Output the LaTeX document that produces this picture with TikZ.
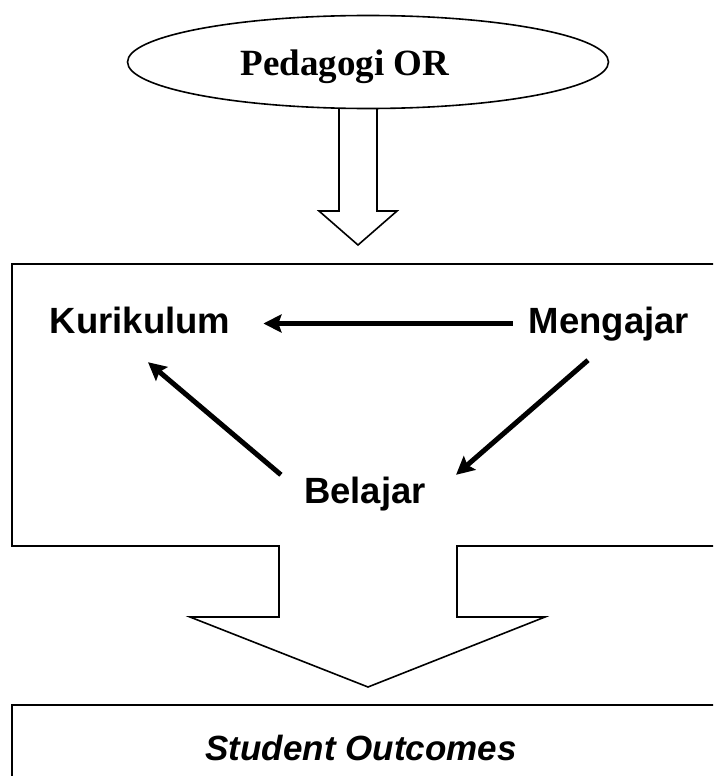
\documentclass[tikz,border=0pt]{standalone}
\usepackage{fontspec}
\newfontfamily\arialfont{Liberation Sans}
\newfontfamily\timesfont{Liberation Serif}
\usetikzlibrary{arrows.meta,shapes.geometric}

\begin{document}
\begin{tikzpicture}[x=1pt,y=-1pt,
    shapeline/.style={line width=1.6pt,line join=miter},
    word/.style={inner sep=0pt,anchor=base,text height=26pt,text depth=7pt,
        font=\arialfont\bfseries\fontsize{36.5}{40}\selectfont},
    conn/.style={line width=5pt,-{Stealth[length=18pt,width=18pt,inset=3pt]}}]
    \useasboundingbox (0,0) rectangle (713,776);
    \clip (0,0) rectangle (713,776);
    % oval and hollow arrow
    \node[draw,ellipse,shapeline,minimum width=481pt,minimum height=93pt,inner sep=0pt] (oval) at (368,62) {};
    \node[anchor=base,inner sep=0pt,font=\timesfont\bfseries\fontsize{37}{40}\selectfont] (pedagogi) at (345,75) {Pedagogi OR};
    \draw[shapeline] (339,108) -- (339,211) -- (319,211) -- (358,245) -- (397,211) -- (377,211) -- (377,108);
    % middle box with big arrow
    \draw[shapeline] (730,264) -- (12,264) -- (12,546) -- (279,546) -- (279,617) -- (190,617) -- (368,687)
        -- (545,617) -- (457,617) -- (457,546) -- (730,546);
    % bottom box
    \draw[shapeline] (730,705) -- (12,705) -- (12,800);
    \node[word] (kurikulum) at (140,333) {Kurikulum};
    \node[word] (mengajar) at (609,333) {Mengajar};
    \node[word] (belajar) at (365,503) {Belajar};
    \node[word,font=\arialfont\bfseries\itshape\fontsize{35}{40}\selectfont] (outcomes) at (361,760) {Student Outcomes};
    \draw[conn,shorten <=16pt,shorten >=33pt] (mengajar.west) -- (kurikulum.east);
    \draw[conn] ([shift={(-21,20)}]mengajar.south) -- ([shift={(30,-2)}]belajar.north east);
    \draw[conn] ([shift={(-23,-2)}]belajar.north west) -- ([shift={(8,22)}]kurikulum.south);
\end{tikzpicture}
\end{document}
